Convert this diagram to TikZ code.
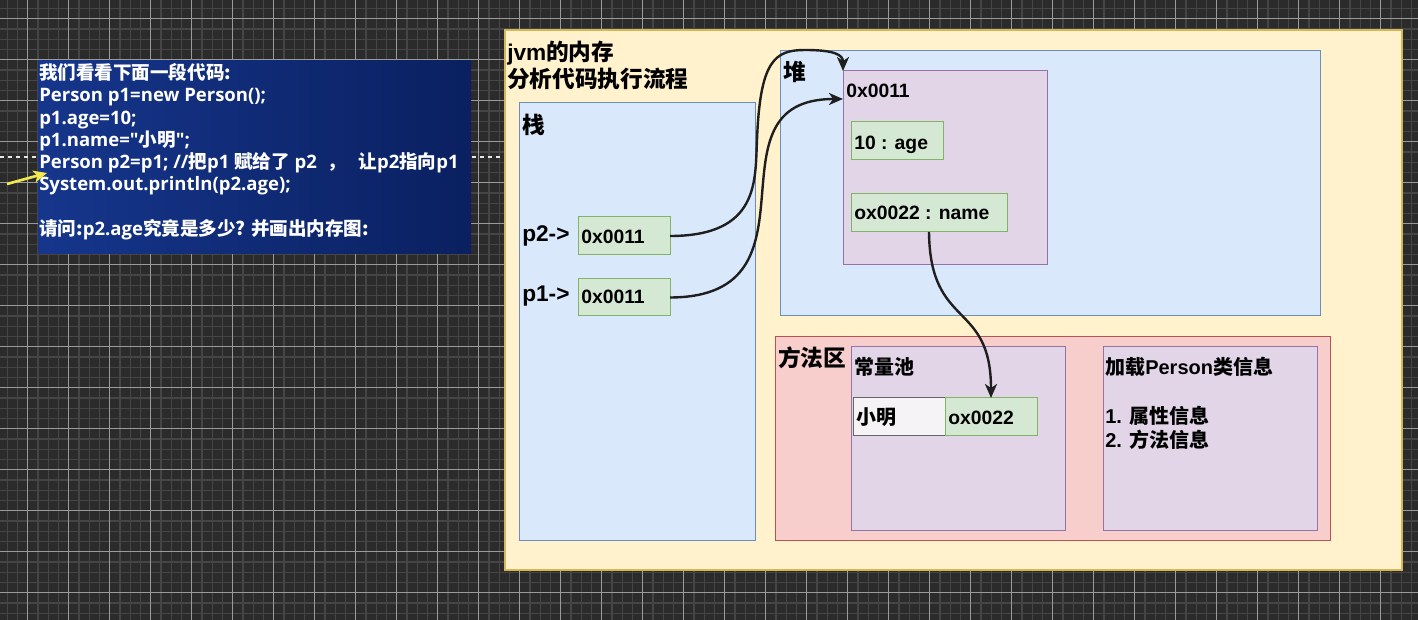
\documentclass[tikz,border=0pt]{standalone}
\usepackage{fontspec}
\setmainfont{Liberation Sans}
\newfontfamily\cjk{Noto Sans CJK SC}
\newfontfamily\codefont{Open Sans}
\usetikzlibrary{arrows.meta}
\definecolor{bgc}{HTML}{2B2B2B}
\definecolor{gminor}{HTML}{454545}
\definecolor{gmajor}{HTML}{9A9A9A}
\definecolor{yfill}{HTML}{FFF2CC}\definecolor{ydraw}{HTML}{D6B656}
\definecolor{bfill}{HTML}{DAE8FC}\definecolor{bdraw}{HTML}{6C8EBF}
\definecolor{gfill}{HTML}{D5E8D4}\definecolor{gdraw}{HTML}{82B366}
\definecolor{pfill}{HTML}{E1D5E7}\definecolor{pdraw}{HTML}{9673A6}
\definecolor{rfill}{HTML}{F8CECC}\definecolor{rdraw}{HTML}{B85450}
\definecolor{wfill}{HTML}{F5F3F6}\definecolor{wdraw}{HTML}{666666}
\definecolor{navyl}{RGB}{22,54,140}\definecolor{navyr}{RGB}{10,32,96}
\definecolor{hl}{HTML}{F2E94E}
\newcommand\drbox[6]{\node[#6, anchor=north west, minimum width={(#4-#2)*0.75pt}, minimum height={(#5-#3)*0.75pt}, inner sep=0pt, outer sep=0pt] (#1) at (#2,#3) {};}
\tikzset{
  ybox/.style={fill=yfill, draw=ydraw, line width=0.9pt},
  bbox/.style={fill=bfill, draw=bdraw, line width=0.75pt},
  gbox/.style={fill=gfill, draw=gdraw, line width=0.75pt},
  pbox/.style={fill=pfill, draw=pdraw, line width=0.75pt},
  rbox/.style={fill=rfill, draw=rdraw, line width=0.75pt},
  wbox/.style={fill=wfill, draw=wdraw, line width=0.75pt},
  codebox/.style={left color=navyl, right color=navyr, draw=none},
  big/.style={inner sep=0pt, anchor=base west, font=\bfseries\fontsize{17}{19}\selectfont},
  mid/.style={inner sep=0pt, anchor=base west, font=\bfseries\fontsize{15}{17}\selectfont},
  val/.style={inner sep=0pt, anchor=base west, font=\bfseries\fontsize{14.5}{16}\selectfont},
  code/.style={inner sep=0pt, anchor=base west, text=white, font=\codefont\bfseries\fontsize{13.9}{15}\selectfont},
  conn/.style={draw=black!88, line width=1.8pt, -{Stealth[length=10.5pt,width=9pt,inset=3pt]}},
  minorline/.style={draw=gminor, line width=0.9pt},
  majorline/.style={draw=gmajor, line width=0.6pt},
}
\begin{document}
\begin{tikzpicture}[x=0.75pt,y=-0.75pt]
\useasboundingbox (0,0) rectangle (1418,620);
\fill[bgc] (0,0) rectangle (1418,620);
% grid
\foreach \j in {-3,...,136} \draw[minorline] ({27.7+10.25*\j},0) -- ({27.7+10.25*\j},620);
\foreach \j in {-2,...,59} \draw[minorline] (0,{18.8+10.25*\j}) -- (1418,{18.8+10.25*\j});
\foreach \k in {0,...,34} \draw[majorline] ({27.7+41*\k},0) -- ({27.7+41*\k},620);
\foreach \k in {0,...,15} \draw[majorline] (0,{18.8+41*\k}) -- (1418,{18.8+41*\k});
\draw[white!80!gray, line width=0.8pt, dash pattern=on 3pt off 3pt] (0,157) -- (505,157);

% code box
\drbox{code}{38}{61}{471}{254}{codebox}
\node[code] (c1) at (39,79.5) {\cjk 我们看看下面一段代码:};
\node[code] (c2) at (39,101.8) {Person p1=new Person();};
\node[code] (c3) at (39,124.1) {p1.age=10;};
\node[code] (c4) at (39,146.4) {p1.name="{\cjk 小明}";};
\node[code] (c5) at (39,168.7) {Person p2=p1; //{\cjk 把}p1 {\cjk 赋给了} p2\hspace{4pt} {\cjk ，}\hspace{6pt} {\cjk 让}p2{\cjk 指向}p1};
\node[code] (c6) at (39,191) {System.out.println(p2.age);};
\node[code] (c8) at (39,235.6) {{\cjk 请问:}p2.age{\cjk 究竟是多少? 并画出内存图:}};
\coordinate (ya) at (7,184);
\coordinate (yb) at (47,173);
\draw[hl, line width=2pt, -{Stealth[length=10pt,width=9pt,inset=2.5pt]}] (ya) -- (yb);

% jvm frame
\drbox{jvm}{505}{30}{1402}{570}{ybox}
\node[big] (t1) at (507,61) {jvm{\cjk 的内存}};
\node[big] (t2) at (507,87.8) {\cjk 分析代码执行流程};

% stack
\drbox{stack}{519}{103}{755}{540}{bbox}
\node[big] (tz) at (522,133.6) {\cjk 栈};
\drbox{p2box}{578}{217}{670}{255}{gbox}
\drbox{p1box}{578}{279}{670}{316}{gbox}
\node[big] (lp2) at (522,242) {p2->};
\node[big] (lp1) at (522,302) {p1->};
\node[val] (vp2) at (581,243.3) {0x0011};
\node[val] (vp1) at (581,304) {0x0011};

% heap
\drbox{heap}{780}{51}{1320}{316}{bbox}
\node[big] (td) at (783,80.3) {\cjk 堆};
\drbox{obj}{843}{71}{1047}{265}{pbox}
\node[val] (vobj) at (846,97.3) {0x0011};
\drbox{agebox}{851}{122}{943}{160}{gbox}
\node[val] (vage) at (854,149.3) {10 : age};
\drbox{namebox}{851}{194}{1007}{232}{gbox}
\node[val] (vname) at (854,220) {ox0022 : name};

% method area
\drbox{method}{775}{337}{1330}{540}{rbox}
\node[big] (tf) at (778,366.6) {\cjk 方法区};
\drbox{pool}{851}{347}{1065}{530}{pbox}
\node[mid] (tc) at (854,374.6) {\cjk 常量池};
\drbox{cls}{1103}{347}{1317}{530}{pbox}
\node[mid] (tl) at (1105,374.6) {{\cjk 加载}Person{\cjk 类信息}};
\node[mid] (ti1) at (1105,423.6) {1. {\cjk 属性信息}};
\node[mid] (ti2) at (1105,447.6) {2. {\cjk 方法信息}};
\drbox{xmbox}{853}{398}{945}{435}{wbox}
\drbox{oxbox}{945}{398}{1037}{435}{gbox}
\node[mid] (vxm) at (856,424.6) {\cjk 小明};
\node[val] (vox) at (948,425) {ox0022};

% connectors
\coordinate (objin) at (843,99);
\draw[conn] (p2box.east) .. controls (760,236) and (755,180) .. (757,140)
  .. controls (760,60) and (775,50) .. (805,50)
  .. controls (835,50) and (843,55) .. (obj.north west);
\draw[conn] (p1box.east) .. controls (830,297) and (700,99) .. (objin);
\draw[conn] (namebox.south) .. controls (930,330) and (991,300) .. (oxbox.north);
\end{tikzpicture}
\end{document}
